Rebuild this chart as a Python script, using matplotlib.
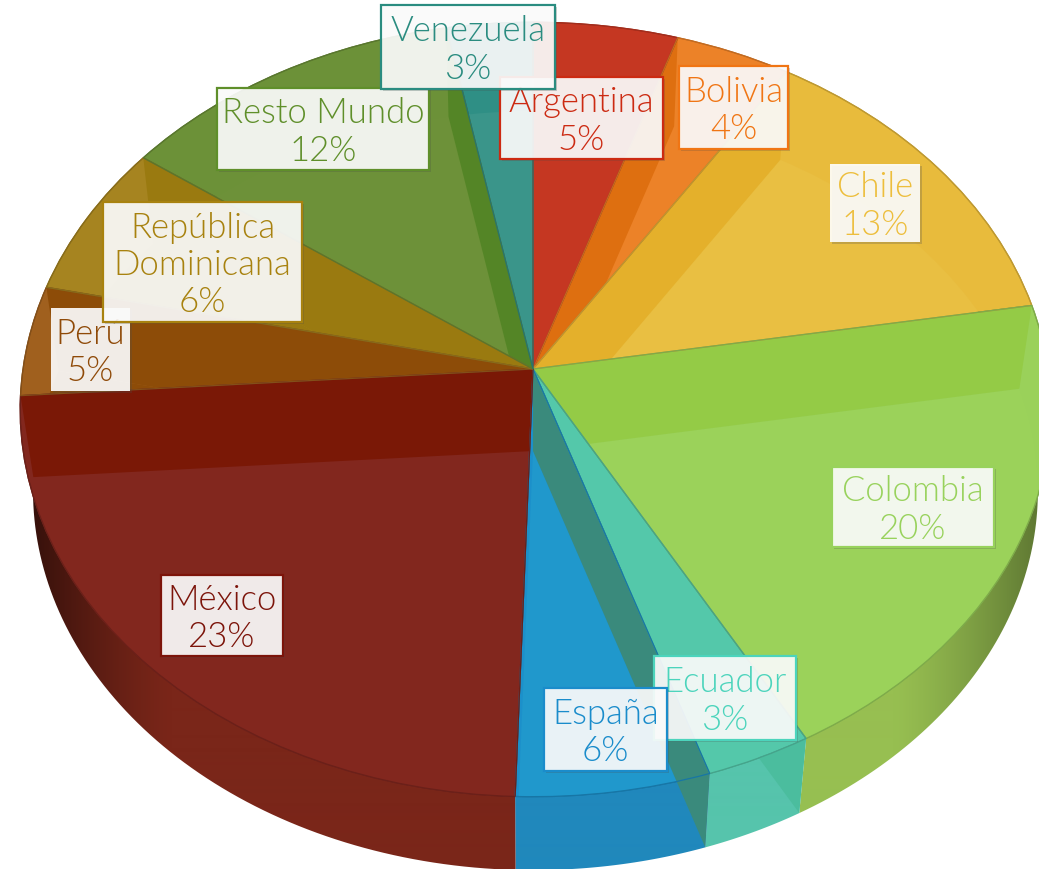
import numpy as np
import matplotlib
matplotlib.use('Agg')
import matplotlib.pyplot as plt
import matplotlib.patheffects as pe
from matplotlib.colors import to_rgb
from matplotlib.patches import PathPatch, Polygon, Rectangle
from matplotlib.path import Path

plt.rcParams['font.family'] = ['Lato', 'DejaVu Sans']

# clockwise from 12 o'clock
countries = ['Argentina', 'Bolivia', 'Chile', 'Colombia', 'Ecuador', 'España', 'México',
             'Perú', 'República\nDominicana', 'Resto Mundo', 'Venezuela']
shares = [5, 4, 13.3, 19.7, 3, 5.5, 23.4, 4.6, 6.45, 12.05, 3]

top_colors = ['#C53722', '#EC8228', '#E8BB3C', '#9AD15A', '#54C8AA', '#1C90CA', '#82271E',
              '#A0601E', '#A68420', '#6C9138', '#2F8F85']
floor_colors = ['#C53722', '#EC8228', '#E9BF42', '#9BD25A', '#54C8AA', '#2098CC', '#82271E',
                '#8D4C08', '#9A7A10', '#6D9139', '#3A958A']
band_colors = ['#C53722', '#DE6F10', '#E4B02B', '#94CB46', '#4BBD9E', '#3A8A7C', '#7A1806',
               '#8D4C08', '#9A7A10', '#548526', '#2F8F85']
wall_colors = ['#C53722', '#EC8228', '#E8BB3C', '#97BF51', '#56C4AC', '#2088BC', '#7A2619',
               '#8D4C08', '#9A7A10', '#6C9138', '#2F8F85']
text_colors = ['#CC2A12', '#F07514', '#EDBE3C', '#98D25C', '#4CD4BC', '#1A8CCB', '#7C140A',
               '#8F4A08', '#A8820F', '#5F8F2A', '#2A8C80']

# label boxes in pixels: x0, y0, x1, y1
label_boxes = {
    'Argentina': (500, 78, 663, 160),
    'Bolivia': (679, 67, 788, 150),
    'Chile': (830, 165, 920, 243),
    'Colombia': (832, 468, 994, 548),
    'Ecuador': (654, 657, 796, 741),
    'España': (544, 689, 667, 772),
    'México': (161, 576, 283, 657),
    'Perú': (51, 309, 130, 392),
    'República\nDominicana': (103, 203, 302, 323),
    'Resto Mundo': (217, 89, 429, 171),
    'Venezuela': (381, 6, 555, 90),
}
no_border = ['Chile', 'Perú']

# perspective of the disc
CX, CY, RX, RX_LEFT, RY, PERSP = 533, 370, 515, 510, 383, 0.1045
FLOOR_CY, FLOOR_SX, FLOOR_SY = 452, 0.975, 0.98
W, H = 1039, 870


def project(xy, floor=False):
    x, y = np.asarray(xy, dtype=float).T
    w = 1 + PERSP * y
    rx = np.where(x > 0, RX, RX_LEFT)
    if floor:
        return np.c_[CX + FLOOR_SX * rx * x / w, FLOOR_CY - FLOOR_SY * RY * y / w]
    return np.c_[CX + rx * x / w, CY - RY * y / w]


def darken(color, f):
    return tuple(c * f for c in to_rgb(color))


fig = plt.figure(figsize=(10.39, 8.7), dpi=100)
ax = fig.add_axes([0, 0, 1, 1])
wedges, _ = ax.pie(shares, startangle=90, counterclock=False, radius=1)

# wall shading depends on the pixel column only, left side goes darker than right
col_x = np.arange(W) + 0.5
side = np.abs(col_x - CX) / RX
strength = np.where(col_x < CX, 0.5, 0.32)
shade = 1 - strength * np.clip((side - 0.7) / 0.25, 0, 1.2) ** 1.3

for i, w in enumerate(wedges):
    t1, t2 = w.theta1, w.theta2
    unit_path = w.get_patch_transform().transform_path(w.get_path())
    w.remove()

    # outer wall of the front part of the slice
    rim_a = np.radians(np.linspace(t1, t2, 80))
    rim = np.c_[np.cos(rim_a), np.sin(rim_a)]
    rim = rim[rim[:, 1] < 0.15]
    wall = None
    if len(rim) > 1:
        wall = Polygon(np.vstack([project(rim), project(rim, floor=True)[::-1]]), closed=True,
                       fc='none', ec='none', zorder=1)
        ax.add_patch(wall)
        rgb = np.outer(shade, to_rgb(wall_colors[i]))[None, :, :]
        im = ax.imshow(rgb, extent=(0, W, H, 0), aspect='auto', interpolation='bilinear', zorder=1)
        im.set_clip_path(wall)

    top = PathPatch(Path(project(unit_path.vertices), unit_path.codes), fc=top_colors[i],
                    ec=darken(top_colors[i], 0.82), lw=0.9, zorder=2)
    ax.add_patch(top)

    floor = PathPatch(Path(project(unit_path.vertices, floor=True), unit_path.codes),
                      fc=floor_colors[i], ec='none', zorder=3)
    ax.add_patch(floor)
    floor.set_clip_path(top)

    # radial wall of the slice, seen through the top
    start = (90 - t2) % 360  # clockwise start of the slice
    spoke = t2 if start < 180 else t1
    end = [[np.cos(np.radians(spoke)), np.sin(np.radians(spoke))]]
    quad = np.vstack([[[CX, CY]], project(end), project(end, floor=True), [[CX, FLOOR_CY]]])
    band = Polygon(quad, closed=True, fc=band_colors[i], ec='none', zorder=4)
    ax.add_patch(band)
    if countries[i] == 'Ecuador':
        band.set_clip_path(wall)
    elif countries[i] != 'España':
        band.set_clip_path(top)

    # rim line redrawn over the floor
    outline = PathPatch(Path(project(unit_path.vertices), unit_path.codes), fc='none',
                        ec=darken(top_colors[i], 0.82), lw=0.9, zorder=5)
    ax.add_patch(outline)

ax.set_aspect('auto')
ax.set_xlim(0, W)
ax.set_ylim(H, 0)
ax.axis('off')

# later boxes sit on top: Venezuela over Argentina, República over Perú, España over Ecuador
for z, name in enumerate(countries):
    i = countries.index(name)
    x0, y0, x1, y1 = label_boxes[name]
    ax.add_patch(Rectangle((x0, y0), x1 - x0, y1 - y0, fc=(1, 1, 1, 0.9), ec=text_colors[i],
                           lw=0 if name in no_border else 1.6, zorder=10 + z,
                           path_effects=[pe.SimplePatchShadow(offset=(1.5, -1.5), alpha=0.25), pe.Normal()]))
    ax.text((x0 + x1) / 2, (y0 + y1) / 2 + 2, f'{name}\n{shares[i]:.0f}%', color=text_colors[i],
            fontsize=25, fontweight=300, ha='center', va='center', linespacing=1.2, zorder=10 + z)

fig.savefig('out.png', dpi=100)
